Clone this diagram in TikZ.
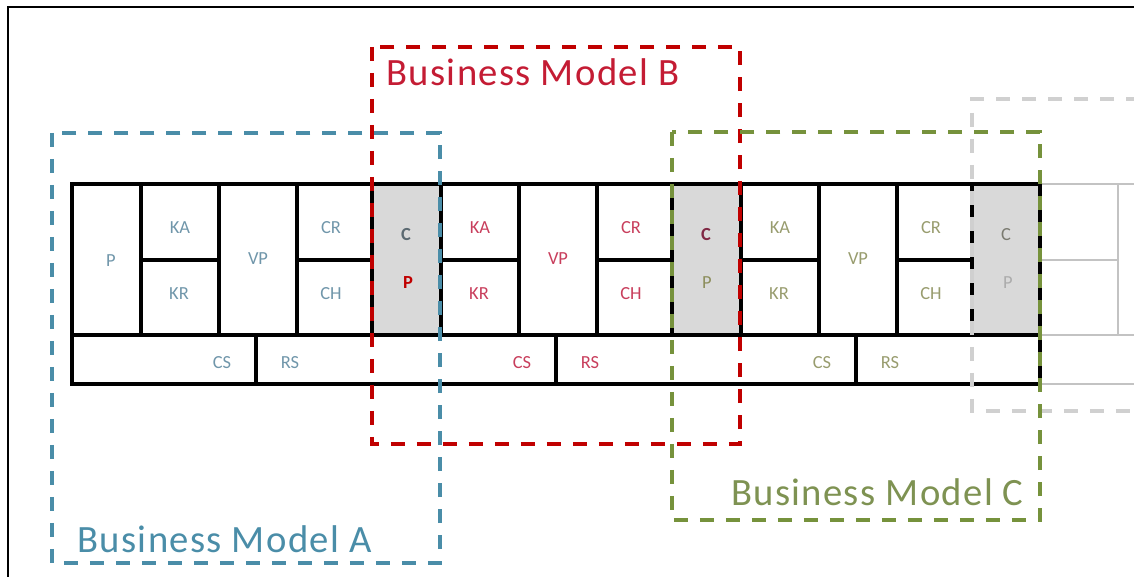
\documentclass[tikz,border=0pt]{standalone}
\usepackage{fontspec}
\setmainfont{Carlito}
\usepackage{tikz}
\usetikzlibrary{calc}

\definecolor{bmA}{RGB}{74,141,168}
\definecolor{bmAtext}{RGB}{112,150,170}
\definecolor{bmB}{RGB}{192,0,0}
\definecolor{bmBlabel}{RGB}{196,28,52}
\definecolor{bmBtext}{RGB}{200,62,92}
\definecolor{bmC}{RGB}{118,146,60}
\definecolor{bmClabel}{RGB}{126,146,82}
\definecolor{bmCtext}{RGB}{152,156,110}
\definecolor{bmD}{RGB}{208,208,208}
\definecolor{cpfill}{RGB}{217,217,217}
\definecolor{fadeline}{RGB}{195,195,195}

\tikzset{
    cell/.style={font=\fontsize{10.5}{12}\selectfont, inner sep=0pt},
    strip/.style={line width=0.065cm},
    model/.style={line width=0.07cm, dash pattern=on 0.28cm off 0.24cm},
    modeltitle/.style={font=\fontsize{22}{26}\selectfont\addfontfeature{LetterSpace=3.5}, inner sep=0pt},
}

% the labels of one canvas: prefix, x offset, text colour
\newcommand*\bmcells[3]{
    \begin{scope}[shift={(#2,0)}, every node/.append style={cell, text=#3}]
        \node (#1-ka) at (180,228) {KA};
        \node (#1-kr) at (179,294) {KR};
        \node (#1-vp) at (258,259) {VP};
        \node (#1-cr) at (331,228) {CR};
        \node (#1-ch) at (331,294) {CH};
        \node (#1-cs) at (222,363) {CS};
        \node (#1-rs) at (290,363) {RS};
    \end{scope}}

\begin{document}
\begin{tikzpicture}[x=0.02cm, y=-0.02cm]
        \useasboundingbox (0,0) rectangle (1134,577);
        \draw[line width=0.045cm] (8,577) -- (8,7) -- (1134,7);

        % shared C/P columns
        \fill[cpfill] (372,184) rectangle (440,335);
        \fill[cpfill] (672,184) rectangle (740,335);
        \fill[cpfill] (972,184) rectangle (1040,335);

        % next canvas, faded out
        \draw[fadeline, line width=0.04cm] (1040,184) -- (1134,184)
            (1040,335) -- (1134,335) (1040,384) -- (1134,384)
            (1040,260) -- (1118,260) (1118,184) -- (1118,335);

        % the strip of canvases
        \draw[strip] (72,184) rectangle (1040,384);
        \draw[strip] (72,335) -- (1040,335);
        \foreach \o in {0,300,600} {
            \draw[strip] (141+\o,184) -- (141+\o,335);
            \draw[strip] (219+\o,184) -- (219+\o,335);
            \draw[strip] (297+\o,184) -- (297+\o,335);
            \draw[strip] (372+\o,184) -- (372+\o,335);
            \draw[strip] (141+\o,260) -- (219+\o,260);
            \draw[strip] (297+\o,260) -- (372+\o,260);
            \draw[strip] (256+\o,335) -- (256+\o,384);
        }

        \node[cell, text=bmAtext] (a-p) at (111,261) {P};
        \bmcells{a}{0}{bmAtext}
        \bmcells{b}{300}{bmBtext}
        \bmcells{c}{600}{bmCtext}

        \node[cell, text={rgb,255:red,92;green,106;blue,114}, font=\fontsize{10.5}{12}\selectfont\bfseries] (ab-c) at (406,235) {C};
        \node[cell, text=bmB, font=\fontsize{10.5}{12}\selectfont\bfseries] (ab-p) at (408,283) {P};
        \node[cell, text={rgb,255:red,128;green,40;blue,68}, font=\fontsize{10.5}{12}\selectfont\bfseries] (bc-c) at (706,235) {C};
        \node[cell, text={rgb,255:red,140;green,142;blue,92}] (bc-p) at (707,283) {P};
        \node[cell, text={rgb,255:red,122;green,122;blue,112}] (cd-c) at (1006,235) {C};
        \node[cell, text={rgb,255:red,172;green,172;blue,172}] (cd-p) at (1008,283) {P};

        % business model frames
        \draw[model, bmD] (1140,99) -- (972,99) -- (972,411) -- (1140,411);
        \draw[model, bmA] (52,133) rectangle (440,563);
        \draw[model, bmB] (372,47) rectangle (740,444);
        \draw[model, bmC] (672,132) rectangle (1040,520);

        \node[modeltitle, text=bmA, anchor=base west] (title-a) at (77,553) {Business Model A};
        \node[modeltitle, text=bmBlabel, anchor=base west] (title-b) at (386,86) {Business Model B};
        \node[modeltitle, text=bmClabel, anchor=base east] (title-c) at (1024,506) {Business Model C};
    \end{tikzpicture}
\end{document}
